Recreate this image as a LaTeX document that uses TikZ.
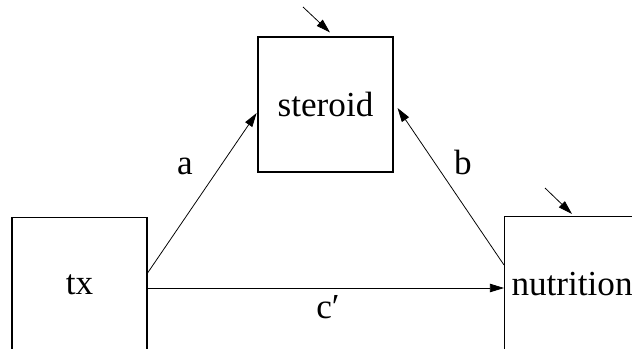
\documentclass[tikz,border=0pt]{standalone}
\usepackage{fontspec}
\setmainfont{Liberation Serif}
\newfontfamily\diagfont{Liberation Serif}
\usetikzlibrary{positioning,arrows.meta,calc}

\begin{document}
\begin{tikzpicture}[
  font=\diagfont\fontsize{25}{30}\selectfont,
  box/.style={draw=black, line width=0.8pt, minimum width=3.375cm,
              minimum height=3.375cm, inner sep=0pt},
  lbl/.style={draw=none, inner sep=0pt},
  arrow/.style={-{Triangle[length=10pt,width=6pt]}, line width=0.55pt},
]
\useasboundingbox (0,0) rectangle (15.8,-8.775);
\clip (0,0) rectangle (15.8,-8.72);

\node[box] (steroid) at (8.1375,-2.6125) {steroid};
\node[box, minimum height=3.6cm, anchor=north] (tx) at (1.9875,-5.425)
  {\raisebox{0.225cm}{tx}};
\node[box, minimum height=3.6cm, minimum width=3.6cm, anchor=north west]
  (nut) at (12.6,-5.4) {\hspace*{-0.225cm}\raisebox{0.225cm}{nutrition}};

\node[lbl] (la) at (4.625,-4.15) {a};
\node[lbl] (lb) at (11.575,-4.05) {b};
\node[lbl] (lc) at (8.2,-7.675) {c′};

% error terms
\coordinate (es) at (7.575,-0.175);
\coordinate (en) at (13.625,-4.7);

\draw[arrow] ($(tx.north east)+(0,-1.4)$) -- ($(steroid.west)+(-0.02,-0.2125)$);
\draw[arrow] ($(nut.north west)+(0,-1.225)$) -- ($(steroid.east)+(0.1,-0.0875)$);
\draw[arrow] ($(tx.north east)+(0,-1.775)$) -- ($(nut.north west)+(0,-1.8)$);
\draw[arrow] (es) -- ($(steroid.north)+(0.1125,0.1)$);
\draw[arrow] (en) -- ($(nut.north west)+(1.7,0.05)$);
\end{tikzpicture}
\end{document}
